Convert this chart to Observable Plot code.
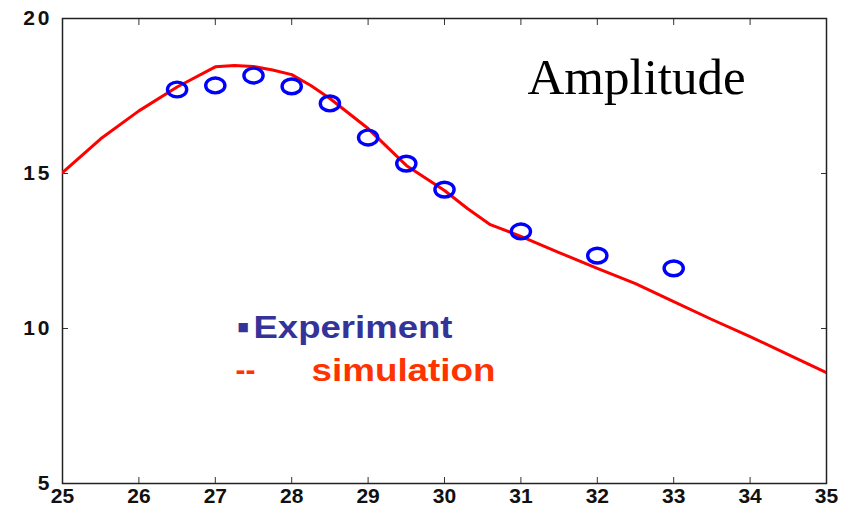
<!DOCTYPE html>
<html>
<head>
<meta charset="utf-8">
<script src="https://cdn.jsdelivr.net/npm/d3@7"></script>
<script src="https://cdn.jsdelivr.net/npm/@observablehq/plot@0.6"></script>
<style>
  html, body { margin: 0; padding: 0; background: #fff; }
</style>
</head>
<body>
<div id="chart"></div>
<script>
// Experimental points (blue circles)
const expX = [26.5, 27, 27.5, 28, 28.5, 29, 29.5, 30, 31, 32, 33];
const expY = [17.71, 17.84, 18.16, 17.81, 17.26, 16.16, 15.32, 14.48, 13.13, 12.35, 11.94];

// Simulation curve (red line)
const simX = [25, 25.5, 26, 26.5, 27, 27.25, 27.5, 27.75, 28, 28.25, 28.5, 29, 29.5, 30, 30.3, 30.6, 31, 31.5, 32, 32.5, 33, 33.5, 34, 34.5, 35];
const simY = [15.03, 16.12, 17.02, 17.79, 18.44, 18.48, 18.45, 18.34, 18.19, 17.84, 17.42, 16.45, 15.26, 14.45, 13.87, 13.35, 12.97, 12.45, 11.94, 11.45, 10.87, 10.29, 9.74, 9.16, 8.58];

// Axis ticks
const xTicks = [25, 26, 27, 28, 29, 30, 31, 32, 33, 34, 35];
const yTicks = [5, 10, 15, 20];

// Texts
const titleText = "Amplitude";
const legendExp = "Experiment";
const legendSim = "simulation";

const expData = expX.map((x, i) => ({x, y: expY[i]}));
const simData = simX.map((x, i) => ({x, y: simY[i]}));

// elliptical ring symbol
const ellipse = {
  draw(ctx) {
    const rx = 9.6, ry = 7.4, k = 0.5523;
    ctx.moveTo(rx, 0);
    ctx.bezierCurveTo(rx, k * ry, k * rx, ry, 0, ry);
    ctx.bezierCurveTo(-k * rx, ry, -rx, k * ry, -rx, 0);
    ctx.bezierCurveTo(-rx, -k * ry, -k * rx, -ry, 0, -ry);
    ctx.bezierCurveTo(k * rx, -ry, rx, -k * ry, rx, 0);
    ctx.closePath();
  }
};

const sans = "'Liberation Sans', Arial, sans-serif";

const chart = Plot.plot({
  width: 848,
  height: 511,
  marginLeft: 62,
  marginRight: 22,
  marginTop: 18,
  marginBottom: 28,
  x: {domain: [25, 35]},
  y: {domain: [5, 20]},
  style: {fontFamily: sans, fontWeight: "bold", background: "#fff", color: "#000", overflow: "visible"},
  marks: [
    // inward ticks on all four sides
    Plot.axisX(xTicks, {anchor: "bottom", tickSize: -6, tickFormat: () => "", label: null, stroke: "#333"}),
    Plot.axisX(xTicks, {anchor: "top", tickSize: -6, tickFormat: () => "", label: null, stroke: "#333"}),
    Plot.axisY(yTicks, {anchor: "left", tickSize: -6, tickFormat: () => "", label: null, stroke: "#333"}),
    Plot.axisY(yTicks, {anchor: "right", tickSize: -6, tickFormat: () => "", label: null, stroke: "#333"}),
    // labels
    Plot.axisX(xTicks, {anchor: "bottom", tickSize: 0, tickPadding: 5, label: null, fontSize: 21, fill: "#111"}),
    Plot.axisY(yTicks, {anchor: "left", tickSize: 0, tickPadding: 10, label: null, fontSize: 21, fill: "#111", className: "ylab"}),
    Plot.frame({stroke: "#222", strokeWidth: 1.5}),
    Plot.line(simData, {x: "x", y: "y", stroke: "#ff0000", strokeWidth: 3, clip: true}),
    Plot.dot(expData, {x: "x", y: "y", symbol: ellipse, stroke: "#0000ff", strokeWidth: 3.4, fill: "none"}),
    Plot.text([titleText], {frameAnchor: "top-left", dx: 465, dy: 75, lineAnchor: "bottom", textAnchor: "start",
      fontFamily: "'Liberation Serif', 'Times New Roman', serif", fontWeight: "normal", fontSize: 51, fill: "#000"}),
    Plot.text(["■"], {frameAnchor: "top-left", dx: 175, dy: 312, lineAnchor: "bottom", textAnchor: "start",
      fontFamily: "'DejaVu Sans', sans-serif", fontWeight: "normal", fontSize: 12, fill: "#333399"}),
    Plot.text([legendExp], {frameAnchor: "top-left", dx: 191, dy: 319, lineAnchor: "bottom", textAnchor: "start",
      fontFamily: sans, fontWeight: "bold", fontSize: 31, fill: "#333399", className: "legexp"}),
    Plot.text(["--"], {frameAnchor: "top-left", dx: 173, dy: 361, lineAnchor: "bottom", textAnchor: "start",
      fontFamily: sans, fontWeight: "bold", fontSize: 30, fill: "#ff3300"}),
    Plot.text([legendSim], {frameAnchor: "top-left", dx: 249, dy: 362, lineAnchor: "bottom", textAnchor: "start",
      fontFamily: sans, fontWeight: "bold", fontSize: 31, fill: "#ff3300", className: "legsim"})
  ]
});

document.getElementById("chart").appendChild(chart);

// stretch legend text to the reference widths
d3.select(chart).selectAll(".legexp text").attr("textLength", 199).attr("lengthAdjust", "spacingAndGlyphs");
d3.select(chart).selectAll(".legsim text").attr("textLength", 184).attr("lengthAdjust", "spacingAndGlyphs");
d3.select(chart).selectAll(".ylab text").style("letter-spacing", "3px");
</script>
</body>
</html>
